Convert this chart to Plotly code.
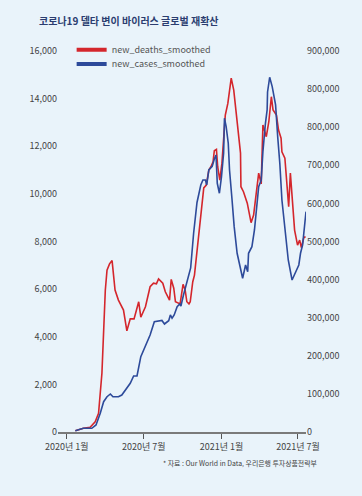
import plotly.graph_objects as go

# ---- data ----
death_dates = ["2020-01-21","2020-02-09","2020-02-25","2020-03-08","2020-03-16","2020-03-24","2020-04-01","2020-04-05","2020-04-11","2020-04-17",
"2020-04-24","2020-05-02","2020-05-14","2020-05-22","2020-05-30","2020-06-08","2020-06-19","2020-06-24","2020-07-05","2020-07-16",
"2020-07-24","2020-07-31","2020-08-05","2020-08-15","2020-08-21","2020-08-31","2020-09-04","2020-09-10","2020-09-14","2020-09-21",
"2020-09-25","2020-10-02","2020-10-07","2020-10-11","2020-10-16","2020-10-19","2020-10-25","2020-10-29","2020-11-04","2020-11-10",
"2020-11-16","2020-11-20","2020-11-26","2020-12-02","2020-12-07","2020-12-12","2020-12-15","2020-12-20","2020-12-23","2020-12-28",
"2021-01-02","2021-01-06","2021-01-10","2021-01-16","2021-01-20","2021-01-24","2021-01-30","2021-02-05","2021-02-11","2021-02-15",
"2021-02-16","2021-02-22","2021-03-03","2021-03-12","2021-03-18","2021-03-25","2021-03-30","2021-04-05","2021-04-09","2021-04-17",
"2021-04-23","2021-04-29","2021-05-03","2021-05-11","2021-05-16","2021-05-22","2021-05-24","2021-05-31","2021-06-05","2021-06-09",
"2021-06-13","2021-06-17","2021-06-23","2021-06-30","2021-07-05","2021-07-09","2021-07-15","2021-07-19"]
new_deaths_smoothed = [55,155,200,430,785,2480,5960,6800,7060,7200,
5960,5540,5120,4250,4750,4750,5470,4820,5260,6100,
6250,6220,6430,6250,5890,5540,6410,6040,5470,5400,
5380,6200,5960,5470,5380,5470,6310,6590,7640,8770,
9530,10250,10370,11000,11140,11350,11810,11870,11140,10580,
11290,12130,13310,13800,14360,14860,14360,13240,12260,11710,
10300,10090,9610,8790,9110,10030,10870,10420,12890,12400,
13030,14080,13520,13310,12680,12340,11770,11500,10300,9460,
10870,9740,8480,7850,8060,7750,8170,8200]

case_dates = ["2020-01-21","2020-02-09","2020-02-29","2020-03-10","2020-03-20","2020-03-28","2020-04-05","2020-04-13","2020-04-19","2020-05-02",
"2020-05-10","2020-05-18","2020-05-30","2020-06-07","2020-06-15","2020-06-24","2020-07-05","2020-07-16","2020-07-26","2020-08-05",
"2020-08-13","2020-08-19","2020-08-29","2020-09-02","2020-09-06","2020-09-11","2020-09-18","2020-09-24","2020-09-27","2020-10-03",
"2020-10-11","2020-10-20","2020-10-27","2020-11-04","2020-11-13","2020-11-18","2020-11-24","2020-11-27","2020-12-02","2020-12-10",
"2020-12-15","2020-12-19","2020-12-22","2020-12-27","2021-01-01","2021-01-06","2021-01-08","2021-01-12","2021-01-17","2021-01-20",
"2021-01-26","2021-01-31","2021-02-07","2021-02-15","2021-02-20","2021-02-27","2021-03-04","2021-03-06","2021-03-14","2021-03-20",
"2021-03-25","2021-03-30","2021-04-05","2021-04-09","2021-04-15","2021-04-19","2021-04-20","2021-04-25","2021-05-01","2021-05-09",
"2021-05-14","2021-05-19","2021-05-24","2021-05-31","2021-06-08","2021-06-17","2021-06-25","2021-07-03","2021-07-07","2021-07-12",
"2021-07-20"]
new_cases_smoothed = [3400,9700,9700,18400,49100,79500,92700,99800,92700,92700,
97100,110300,127800,147000,147000,197700,225800,254600,289500,291400,
292700,283500,292200,307100,298500,307100,328900,336000,330800,359600,
390300,430500,521600,602400,648400,661500,661500,648400,687800,697500,
716600,727100,652800,626600,670200,731600,823500,801400,757900,687800,
609000,538900,469100,425300,403500,438400,420800,469100,486400,530300,
591400,643900,661500,735800,810300,845300,892500,931100,906400,858400,
775200,705300,609000,530300,451500,399000,416600,438400,469100,490900,
578300]

left_ticks = [0, 2000, 4000, 6000, 8000, 10000, 12000, 14000, 16000]
left_ticktext = ["0", "2,000", "4,000", "6,000", "8,000", "10,000", "12,000", "14,000", "16,000"]
right_ticks = [0, 100000, 200000, 300000, 400000, 500000, 600000, 700000, 800000, 900000, 1000000]
right_ticktext = ["0", "100,000", "200,000", "300,000", "400,000", "500,000", "600,000",
                  "700,000", "800,000", "800,000", "900,000"]
x_ticks = ["2020-01-01", "2020-07-01", "2021-01-01", "2021-07-01"]
x_ticktext = ["2020년 1월", "2020년 7월", "2021년 1월", "2021년 7월"]

RED = "#d4262c"
BLUE = "#2d4a9a"
BG = "#e9f3fa"
FONT = "Noto Sans CJK KR"

fig = go.Figure()
fig.add_trace(go.Scatter(x=death_dates, y=new_deaths_smoothed, mode="lines",
                         line=dict(color=RED, width=1.6), showlegend=False, yaxis="y"))
fig.add_trace(go.Scatter(x=case_dates, y=new_cases_smoothed, mode="lines",
                         line=dict(color=BLUE, width=1.6), showlegend=False, yaxis="y2"))
# legend entries (thicker sample lines)
fig.add_trace(go.Scatter(x=[None], y=[None], mode="lines", name="new_deaths_smoothed",
                         line=dict(color=RED, width=4), legend="legend"))
fig.add_trace(go.Scatter(x=[None], y=[None], mode="lines", name="new_cases_smoothed",
                         line=dict(color=BLUE, width=4), legend="legend2"))

xrange = ["2019-12-11", "2021-07-20"]
legend_style = dict(xanchor="left", yanchor="middle", bgcolor="rgba(0,0,0,0)",
                    font=dict(size=9, color="#555555"), borderwidth=0)
fig.update_layout(
    width=362, height=496,
    margin=dict(l=58, r=56, t=51, b=64, autoexpand=False),
    paper_bgcolor=BG, plot_bgcolor=BG,
    font=dict(family=FONT, size=9, color="#444444"),
    xaxis=dict(range=xrange, type="date", tickvals=x_ticks, ticktext=x_ticktext,
               showgrid=False, zeroline=False, showline=True, linecolor="#7a7a7a", linewidth=1.5,
               ticks="outside", ticklen=5, tickwidth=1.2, tickcolor="#555555",
               tickfont=dict(size=9, color="#444444")),
    xaxis2=dict(range=xrange, type="date", overlaying="x", tickvals=x_ticks,
                showticklabels=False, showgrid=False, zeroline=False, showline=False,
                ticks="inside", ticklen=5, tickwidth=1.2, tickcolor="#555555", side="bottom", anchor="y"),
    yaxis=dict(range=[0, 16000], tickvals=left_ticks, ticktext=left_ticktext,
               showgrid=False, zeroline=False, showline=False, ticks="",
               tickfont=dict(size=9, color="#444444")),
    yaxis2=dict(range=[0, 1000000], tickvals=right_ticks, ticktext=right_ticktext,
                overlaying="y", side="right", showgrid=False, zeroline=False, showline=False,
                ticks="", tickfont=dict(size=9, color="#444444")),
    legend=dict(x=0.055, y=1.003, **legend_style),
    legend2=dict(x=0.055, y=0.966, **legend_style),
    annotations=[
        dict(text="<b>코로나19 델타 변이 바이러스 글로벌 재확산</b>", xref="paper", yref="paper",
             x=-0.085, y=1.055, xanchor="left", yanchor="bottom", showarrow=False,
             font=dict(size=10, color="#2b3d70", family=FONT)),
        dict(text="* 자료 : Our World in Data, 우리은행 투자상품전략부", xref="paper", yref="paper",
             x=1.052, y=-0.0635, xanchor="right", yanchor="top", showarrow=False,
             font=dict(size=6.9, color="#444444", family=FONT)),
    ],
)
fig.write_html("out.html", config={"displayModeBar": False},
               post_script="document.body.style.margin='0';document.body.style.background='#e9f3fa';")
